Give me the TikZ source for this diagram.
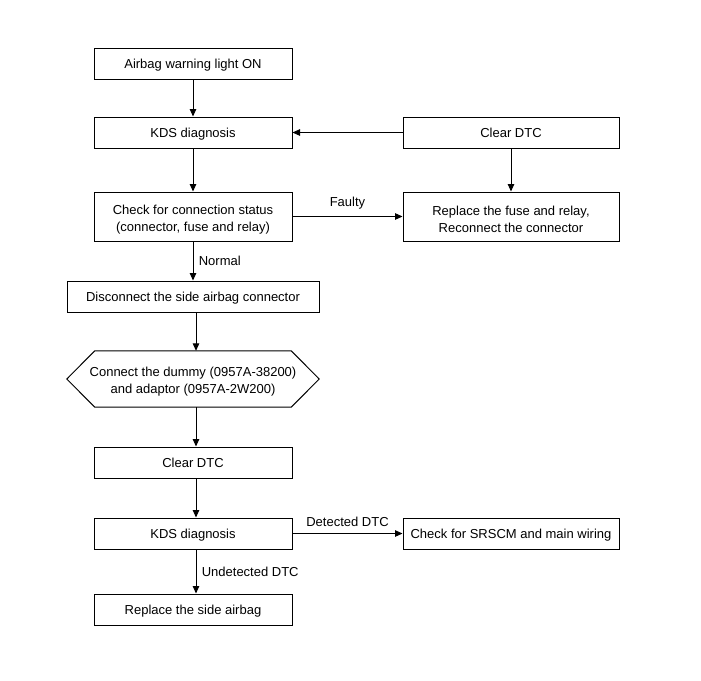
\documentclass[tikz,border=0pt]{standalone}
\usepackage{fontspec}
\setmainfont{Liberation Sans}
\usetikzlibrary{arrows.meta}

\tikzset{
  box/.style={draw, line width=1pt, minimum width=198, minimum height=31, inner sep=0, text height=9.3pt, text depth=0pt},
  twobox/.style={draw, line width=1pt, minimum width=198, minimum height=49, inner sep=0, align=center},
  arr/.style={-{Triangle[length=7.5pt,width=6.5pt]}, line width=1pt},
}
\newcommand{\topstrut}{\rule{0pt}{15pt}}

\begin{document}
\begin{tikzpicture}[x=1pt, y=-1pt, font=\fontsize{13}{17}\selectfont]

\useasboundingbox[fill=white] (0,0) rectangle (701,680);

\node[box] (warn) at (193,63.5) {Airbag warning light ON};
\node[box] (kds) at (193,132.5) {KDS diagnosis};
\node[twobox] (check) at (193,216.5) {\topstrut Check for connection status\\(connector, fuse and relay)};
\node[box, minimum width=216] (clr) at (511,132.5) {Clear DTC};
\node[twobox, minimum width=216] (repl) at (511,216.5) {\topstrut Replace the fuse and relay,\\Reconnect the connector};
\node[box, minimum width=252] (dis) at (193,296.5) {Disconnect the side airbag connector};
\node[minimum width=252, minimum height=56, inner sep=0, align=center] (hex) at (193,379) {\topstrut Connect the dummy (0957A-38200)\\and adaptor (0957A-2W200)};
\draw[line width=1pt] (hex.west) -- ([xshift=28]hex.north west) -- ([xshift=-28]hex.north east)
  -- (hex.east) -- ([xshift=-28]hex.south east) -- ([xshift=28]hex.south west) -- cycle;
\node[box] (clr2) at (193,462.5) {Clear DTC};
\node[box] (kds2) at (193,533.5) {KDS diagnosis};
\node[box, minimum width=216] (srs) at (511,533.5) {Check for SRSCM and main wiring};
\node[box] (side) at (193,609.5) {Replace the side airbag};

\draw[arr] (warn) -- (kds);
\draw[arr] (kds) -- (check);
\draw[arr] (clr) -- (kds);
\draw[arr] (clr) -- (repl);
\draw[arr] (check) -- node[above=3pt] (faulty) {Faulty} (repl);
\draw[arr] (check) -- node[right=2pt] (normal) {Normal} (dis);
\draw[arr] ([xshift=3]dis.south) -- ([xshift=3]hex.north);
\draw[arr] ([xshift=3]hex.south) -- ([xshift=3]clr2.north);
\draw[arr] ([xshift=3]clr2.south) -- ([xshift=3]kds2.north);
\draw[arr] (kds2) -- node[above=3pt] (det) {Detected DTC} (srs);
\draw[arr] ([xshift=3]kds2.south) -- node[right=2pt] (undet) {Undetected DTC} ([xshift=3]side.north);

\end{tikzpicture}
\end{document}
